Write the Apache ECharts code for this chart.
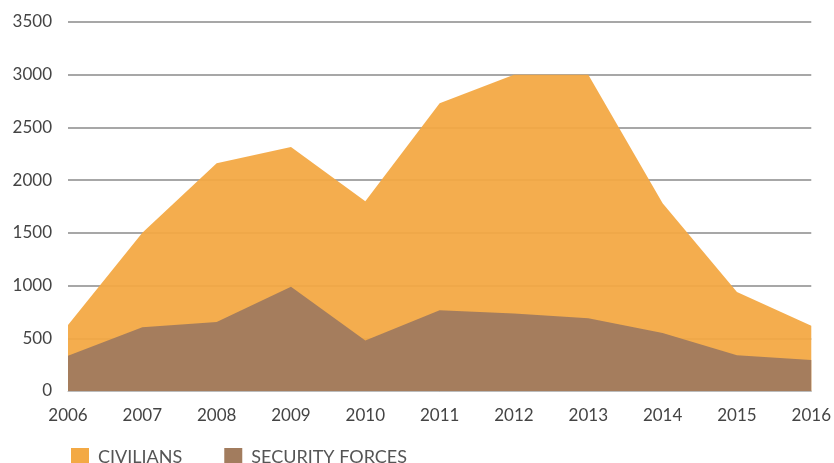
<!DOCTYPE html>
<html>
<head>
<meta charset="utf-8">
<script src="https://cdn.jsdelivr.net/npm/echarts@6/dist/echarts.min.js"></script>
<style>
  html, body { margin: 0; padding: 0; background: #fff; }
  #chart { width: 834px; height: 463px; }
</style>
</head>
<body>
<div id="chart"></div>
<script>
const years = ['2006', '2007', '2008', '2009', '2010', '2011', '2012', '2013', '2014', '2015', '2016'];
const civilians = [625, 1500, 2160, 2315, 1800, 2730, 3000, 3000, 1780, 940, 620];
const securityForces = [335, 605, 655, 990, 480, 765, 735, 690, 550, 340, 295];

const chart = echarts.init(document.getElementById('chart'));
chart.setOption({
  animation: false,
  grid: { left: 68, right: 22, top: 22, bottom: 72 },
  legend: {
    left: 66,
    top: 443,
    itemWidth: 18,
    itemHeight: 18,
    itemGap: 42,
    icon: 'rect',
    textStyle: { color: '#555', fontSize: 18, fontFamily: 'Lato', padding: [0, 0, 0, 4] },
    data: ['CIVILIANS', 'SECURITY FORCES'],
  },
  xAxis: {
    type: 'category',
    data: years,
    boundaryGap: false,
    axisTick: { show: false },
    axisLine: { lineStyle: { color: '#bbb', width: 1 } },
    axisLabel: { color: '#444', fontSize: 17, fontFamily: 'Lato', margin: 16 },
  },
  yAxis: {
    type: 'value',
    min: 0,
    max: 3500,
    interval: 500,
    axisLine: { show: false },
    axisTick: { show: false },
    axisLabel: { color: '#444', fontSize: 17, fontFamily: 'Lato', margin: 16, formatter: (v) => String(v) },
    splitLine: { lineStyle: { color: '#8a8a8a', width: 1.5 } },
  },
  series: [
    {
      name: 'CIVILIANS',
      type: 'line',
      data: civilians,
      symbol: 'none',
      lineStyle: { width: 0 },
      itemStyle: { color: '#F3A944' },
      areaStyle: { color: '#F3A944', opacity: 0.95 },
    },
    {
      name: 'SECURITY FORCES',
      type: 'line',
      data: securityForces,
      symbol: 'none',
      lineStyle: { width: 0 },
      itemStyle: { color: '#A27C5E' },
      areaStyle: { color: '#A27C5E', opacity: 0.97 },
    },
  ],
});
window.addEventListener('resize', () => { chart.resize(); });
</script>
</body>
</html>
